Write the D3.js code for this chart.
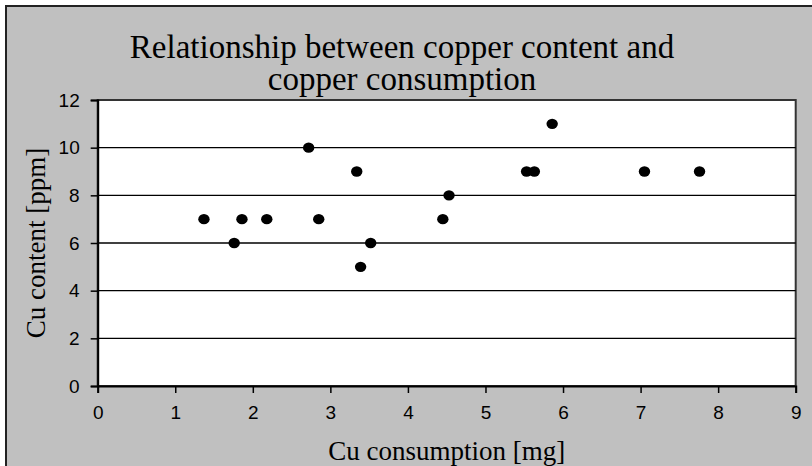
<!DOCTYPE html>
<html>
<head>
<meta charset="utf-8">
<script src="https://cdn.jsdelivr.net/npm/d3@7"></script>
<style>
  body { margin: 0; background: #fff; }
  svg { display: block; }
</style>
</head>
<body>
<svg id="chart"></svg>
<script>
// values
const consumption = [1.37, 1.86, 2.18, 2.85, 1.76, 3.52, 3.39, 2.72, 3.34, 4.53, 4.45, 5.53, 5.63, 5.86, 7.05, 7.76];
const content     = [7,    7,    7,    7,    6,    6,    5,    10,   9,    8,    7,    9,    9,    11,   9,    9];
const xTicks = [0, 1, 2, 3, 4, 5, 6, 7, 8, 9];
const yTicks = [0, 2, 4, 6, 8, 10, 12];
const titleLines = ["Relationship between copper content and", "copper consumption"];

const W = 812, H = 466;
const plot = { left: 97.7, right: 795.7, top: 100, bottom: 386 };

const svg = d3.select("#chart").attr("width", W).attr("height", H);

// chart area
svg.append("rect")
    .attr("x", 6).attr("y", 6)
    .attr("width", W + 10).attr("height", H + 10)
    .attr("fill", "#c0c0c0")
    .attr("stroke", "#222")
    .attr("stroke-width", 2);

const x = d3.scaleLinear().domain([0, 9]).range([plot.left, plot.right]);
const y = d3.scaleLinear().domain([0, 12]).range([plot.bottom, plot.top]);

svg.append("rect")
    .attr("x", plot.left).attr("y", plot.top)
    .attr("width", plot.right - plot.left).attr("height", plot.bottom - plot.top)
    .attr("fill", "#fff")
    .attr("stroke", "#333")
    .attr("stroke-width", 2);

// horizontal gridlines
svg.append("g")
    .selectAll("line")
    .data(yTicks.filter(d => d > 0 && d < 12))
    .join("line")
    .attr("x1", plot.left).attr("x2", plot.right)
    .attr("y1", d => y(d)).attr("y2", d => y(d))
    .attr("stroke", "#000")
    .attr("stroke-width", 1.4);

const xAxis = svg.append("g")
    .attr("transform", `translate(0, ${plot.bottom})`)
    .call(d3.axisBottom(x).tickValues(xTicks).tickSize(7).tickPadding(13));

const yAxis = svg.append("g")
    .attr("transform", `translate(${plot.left}, 0)`)
    .call(d3.axisLeft(y).tickValues(yTicks).tickSize(7).tickPadding(11));

[xAxis, yAxis].forEach(g => {
    g.select(".domain").attr("stroke", "#000").attr("stroke-width", 2);
    g.selectAll(".tick line").attr("stroke", "#000").attr("stroke-width", 1.5);
    g.selectAll("text")
        .attr("fill", "#000")
        .style("font-family", "'Liberation Sans', Arial, sans-serif")
        .style("font-size", "19px");
});

// points
svg.append("g")
    .selectAll("ellipse")
    .data(consumption.map((c, i) => [c, content[i]]))
    .join("ellipse")
    .attr("cx", d => x(d[0]))
    .attr("cy", d => y(d[1]))
    .attr("rx", 5.7)
    .attr("ry", 5.2)
    .attr("fill", "#000");

// title
svg.append("text")
    .attr("x", 402)
    .attr("text-anchor", "middle")
    .style("font-family", "'Liberation Serif', 'Times New Roman', serif")
    .style("font-size", "33px")
    .selectAll("tspan")
    .data(titleLines)
    .join("tspan")
    .attr("x", 402)
    .attr("y", (d, i) => 58 + i * 32)
    .text(d => d);

// axis titles
svg.append("text")
    .attr("x", (plot.left + plot.right) / 2)
    .attr("y", 460)
    .attr("text-anchor", "middle")
    .style("font-family", "'Liberation Serif', 'Times New Roman', serif")
    .style("font-size", "27px")
    .text("Cu consumption [mg]");

svg.append("text")
    .attr("transform", `translate(45, ${(plot.top + plot.bottom) / 2}) rotate(-90)`)
    .attr("text-anchor", "middle")
    .style("font-family", "'Liberation Serif', 'Times New Roman', serif")
    .style("font-size", "27px")
    .text("Cu content [ppm]");
</script>
</body>
</html>
